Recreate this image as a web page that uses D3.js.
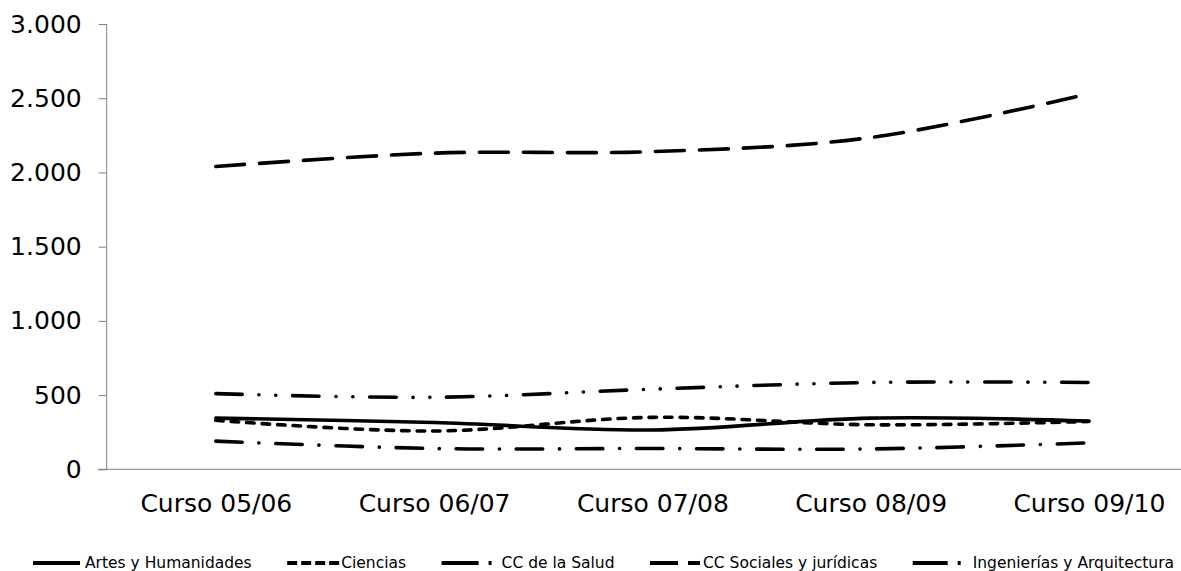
<!DOCTYPE html>
<html>
<head>
<meta charset="utf-8">
<script src="https://cdn.jsdelivr.net/npm/d3@7"></script>
<style>
  html, body { margin: 0; padding: 0; background: #fff; }
  svg { display: block; }
  text { font-family: "DejaVu Sans", Verdana, sans-serif; fill: #000; }
</style>
</head>
<body>
<svg id="chart" width="1181" height="571"></svg>
<script>
const categories = ["Curso 05/06", "Curso 06/07", "Curso 07/08", "Curso 08/09", "Curso 09/10"];
const seriesNames = ["Artes y Humanidades", "Ciencias", "CC de la Salud", "CC Sociales y jurídicas", "Ingenierías y Arquitectura"];
const artes       = [345, 315, 265, 345, 325];
const ciencias    = [330, 258, 350, 300, 322];
const salud       = [190, 140, 140, 137, 178];
const sociales    = [2040, 2130, 2140, 2235, 2530];
const ingenierias = [510, 485, 540, 585, 585];
const yTicks = [0, 500, 1000, 1500, 2000, 2500, 3000];

(function () {
const seriesValues = [artes, ciencias, salud, sociales, ingenierias];
const lineDash = ["none", "7.5,8", "26.5,16.75,0.1,16.75", "29,15", "26.5,16.75,0.1,16.7,0.1,16.75"];
const legendDash = ["none", "10,4", "37,10,3,200", "28,10,12,200", "35,10,3,200"];
const legendLen = [47, 52, 50, 50, 48];
const legendTextOff = [52, 54, 60, 53, 60];

const svg = d3.select("#chart");
const mLeft = 106.7, mTop = 24, mBottom = 469.3;

const x = d3.scalePoint().domain(categories).range([mLeft, 1198]).padding(0.5);
const y = d3.scaleLinear().domain([0, 3000]).range([mBottom, mTop]);
const loc = d3.formatLocale({decimal: ",", thousands: ".", grouping: [3], currency: ["", "€"]});
const fmt = loc.format(",d");

// Y axis
const yAxis = svg.append("g").attr("transform", `translate(${mLeft},0)`)
  .call(d3.axisLeft(y).tickValues(yTicks).tickFormat(fmt).tickSize(8).tickPadding(17));
yAxis.select(".domain").attr("stroke", "#7f7f7f").attr("d", `M0,${mTop}V${mBottom}`);
yAxis.selectAll(".tick line").attr("stroke", "#7f7f7f");
yAxis.selectAll(".tick text").attr("font-size", 25).attr("font-family", "DejaVu Sans").attr("fill", "#000");

// X axis
const xAxis = svg.append("g").attr("transform", `translate(0,${mBottom})`)
  .call(d3.axisBottom(x).tickSize(0).tickPadding(0));
xAxis.select(".domain").attr("stroke", "#7f7f7f").attr("d", `M${mLeft - 8.5},0H1181`);
xAxis.selectAll(".tick text").attr("font-size", 25).attr("font-family", "DejaVu Sans")
  .attr("fill", "#000").attr("dy", null).attr("y", 42.5);

// Lines
const line = d3.line().x((d, i) => x(categories[i])).y(d => y(d)).curve(d3.curveCatmullRom.alpha(0.5));
seriesValues.forEach((vals, k) => {
  svg.append("path")
    .attr("d", line(vals))
    .attr("fill", "none")
    .attr("stroke", "#000")
    .attr("stroke-width", 3.6)
    .attr("stroke-linecap", "round")
    .attr("stroke-linejoin", "round")
    .attr("stroke-dasharray", lineDash[k]);
});

// Legend
const lg = svg.append("g");
const items = seriesNames.map((name, k) => {
  const g = lg.append("g");
  g.append("line").attr("x1", 0).attr("x2", legendLen[k]).attr("y1", 0).attr("y2", 0)
    .attr("stroke", "#000").attr("stroke-width", 4)
    .attr("stroke-dasharray", legendDash[k]);
  const t = g.append("text").attr("x", legendTextOff[k]).attr("y", 5).attr("font-size", 15.5).text(name);
  return {g, w: legendTextOff[k] + t.node().getComputedTextLength()};
});
const startX = 33, endX = 1174;
const total = d3.sum(items, d => d.w);
const gap = (endX - startX - total) / (items.length - 1);
let cx = startX;
items.forEach(it => {
  it.g.attr("transform", `translate(${cx},563)`);
  cx += it.w + gap;
});
})();
</script>
</body>
</html>
